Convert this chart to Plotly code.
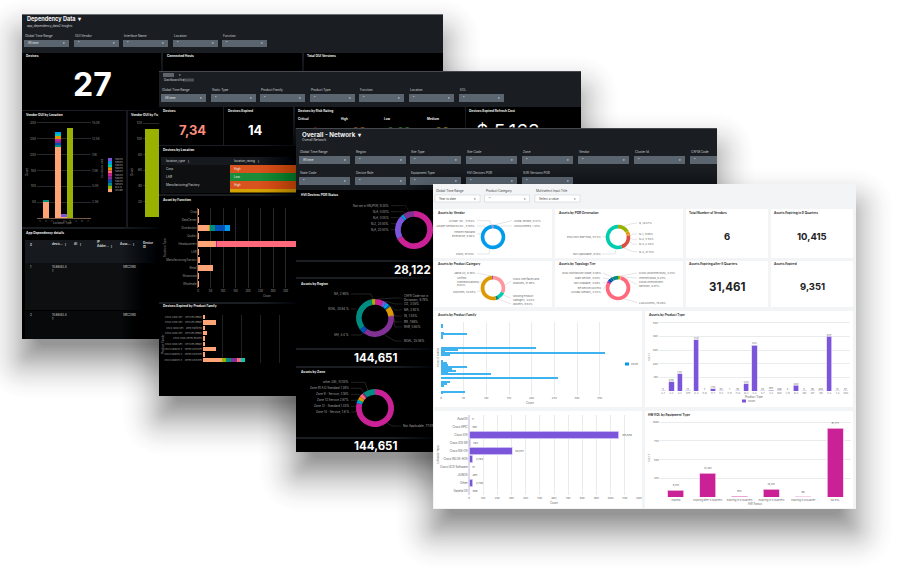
import plotly.graph_objects as go

W, H = 916, 578

# splunk categorical colours
ORANGE, OLIVE, TEAL, BLUE, PURPLE = "#FFA476", "#99B100", "#008C80", "#0051B5", "#813193"
MAGENTA, PINK, GOLD, MINT, SKY, VIOLET = "#CB2196", "#FF677B", "#DD9900", "#00CDAF", "#009CEB", "#7B56DB"
FONT = "Inter"

# --- Vendor OUI by Location (stacked)
oui_locations = ["C", "D", "H", "L", "M", "R", "S", "W", "Z"]
oui_orange = [0, 53, 0, 226, 4, 0, 0, 0, 0]
oui_olive = [0, 0, 0, 0, 0, 284, 0, 0, 0]
oui_teal = [0, 3, 0, 3, 0, 0, 0, 0, 0]
oui_blue = [0, 0, 0, 7, 0, 0, 0, 0, 0]
oui_purple = [0, 0, 0, 8, 0, 0, 0, 0, 0]
oui_magenta = [0, 0, 0, 7, 0, 0, 0, 0, 0]
oui_pink = [0, 0, 0, 1, 0, 0, 0, 0, 0]
oui_gold = [0, 0, 0, 6, 0, 0, 0, 0, 0]
oui_mint = [0, 0, 0, 7, 0, 0, 0, 0, 0]
oui_sky = [0, 0, 0, 5, 0, 0, 0, 0, 0]
oui_violet = [0, 0, 0, 0, 8, 0, 0, 0, 0]
oui_legend = ["50035...", "58505...", "50035...", "50035...", "58505...", "50035...",
              "50035...", "50035...", "58505...", "N/A 0...", "SPARE"]
oui_right_ticks = [2500, 5000, 7500, 10000, 12500, 15000]
oui_right_labels = ["2.5K", "5.0K", "7.5K", "10K", "12.5K", "15.0K"]
oui_function_value = [113]

# --- Asset by Function
function_names = ["Crop", "DataCenter", "Distribution", "Quality", "Headquarters", "LAB",
                  "Manufacturing/Factory", "Retail", "Showroom", "Wholesale"]
func_orange = [3, 3, 47, 3, 73, 3, 9, 61, 3, 3]
func_olive = [0, 0, 2, 0, 0, 0, 0, 0, 0, 0]
func_teal = [0, 0, 20, 0, 0, 0, 0, 0, 0, 0]
func_blue = [0, 0, 37, 0, 0, 0, 0, 0, 0, 0]
func_sky = [0, 0, 20, 0, 0, 0, 0, 0, 0, 0]
func_magenta = [0, 0, 0, 0, 4, 0, 0, 0, 0, 0]
func_pink = [0, 0, 0, 0, 400, 0, 0, 0, 0, 0]

# --- Devices Expired by Product Family
family_names = ["Cisco 2800 Seri... Services Ready", "Cisco 2900 Seri... Services Ready",
                "Cisco 3800 Seri... ared Platforms", "Cisco 2800 Seri... Services Ready",
                "Cisco 3900 Series Routers", "Cisco 3600 Seri... Services Ready",
                "Cisco Catalyst 9... Series Switches", "Cisco Catalyst 9... Series Switches",
                "Cisco Catalyst 9... Series Switches"]
fam_orange = [12, 70, 12, 21, 12, 12, 70, 12, 100]
fam_olive = [0, 0, 0, 0, 0, 0, 0, 0, 21]
fam_teal = [0, 0, 0, 0, 0, 0, 0, 0, 25]
fam_purple = [0, 0, 0, 0, 0, 0, 0, 0, 33]
fam_pink = [0, 0, 0, 0, 0, 0, 0, 0, 23]
fam_mint = [0, 0, 0, 0, 0, 0, 0, 0, 18]

# --- donuts
hvi_labels = ["Not set in HN/POR, 9.35%", "N/A, 0.00%", "N/A, 0.05%", "N/2, 20.50%", "N/A, 20.50%"]
hvi_values = [66, 20.5, 2.5, 9.35]
hvi_colors = [MAGENTA, VIOLET, SKY, PURPLE]

region_labels = ["CAFR Code not in<br>Dictionary, 6.76%", "CG, 3.05%", "MA, 2.92%", "IN, 1.45%", "BR, 7.66%",
                 "RHB, 0.84%", "NOAL, 35.08%", "SAf, 4.4 %", "SOAL, 30.84 %", "NA, 2.95%"]
region_values = [6.76, 3.05, 2.92, 1.45, 7.66, 0.84, 35.08, 4.4, 30.84, 2.95]
region_colors = [MAGENTA, VIOLET, SKY, "#00689D", GOLD, "#FF969E", PURPLE, BLUE, TEAL, OLIVE]

zone_labels = ["other (26), 10.05%", "Zone 91 A.D Standard 1.26%", "Zone 9 - Service, 3.18%",
               "Zone 13 Service 2.67%", "Zone 12 - Standard 1.45%", "Zone 14 - Service, 1.8 %"]
zone_values = [77.5, 1.8, 1.45, 2.67, 3.18, 1.26, 10.05]
zone_colors = [MAGENTA, SKY, MINT, GOLD, PINK, PURPLE, TEAL]

vendor_values = [0.47, 97.84, 0.8, 0.15, 0.1, 0.64]
vendor_colors = [MAGENTA, SKY, "#7FCDF5", VIOLET, GOLD, PURPLE]

por_values = [16.27, 0.88, 3.54, 2.44, 21.13, 55.5, 0.1]
por_colors = [OLIVE, "#C5B000", GOLD, "#F08A24", "#DC4E41", MINT, "#00A58E"]

category_values = [31.98, 9.84, 4.04, 52.65, 0.38, 1.1]
category_colors = ["#FF969E", MINT, TEAL, GOLD, OLIVE, PURPLE]

topology_values = [3.25, 0.25, 0.97, 78.26, 2.53, 4.09, 3.03, 8.08]
topology_colors = [OLIVE, PINK, "#FF969E", PINK, MAGENTA, BLUE, "#00689D", TEAL]

# --- Assets by Product Family (names unreadable in the picture)
product_family_rows = list(range(38))
product_family_counts = [0, 250, 300, 0, 0, 600, 5800, 250, 300, 0, 0, 0, 0, 20900, 3700, 900, 36100, 2000, 0, 0,
                         250, 1300, 1500, 5700, 2500, 3400, 1500, 11000, 0, 25900, 0, 2000, 1300, 700, 0, 0, 5300, 250]
family_ticks = [0, 5000, 10000, 15000, 20000, 25000, 30000, 35000]
family_tick_labels = ["0", "5K", "10K", "15K", "20K", "25K", "30K", "35K"]

# --- Assets by Product Type
product_types = ["A-7", "A-3", "A-2", "CPE", "G-A", "E-M", "H-7", "H-A", "H-B", "H-D", "M-A", "S-A",
                 "S-7", "V-A", "WAP", "V-B", "W-A", "WN", "WP", "WR", "X-A", "Y-A", "WAF"]
product_type_counts = [5, 6783, 12637, 13, 37530, 3, 1710, 53, 1, 53, 5225, 33653,
                       33, 395, 326, 2, 4040, 5, 30, 203, 40047, 13, 57]
type_ticks = [10000, 20000, 30000, 40000, 50000]
type_tick_labels = ["10K", "20K", "30K", "40K", "50K"]

# --- Software Type
software_types = ["AutoOS", "Cisco APIC", "Cisco IOS", "Cisco IOS XR", "Cisco NX-OS", "Cisco WLOS-AOS",
                  "Cisco UCS Software", "JUNOS", "Other", "Viptela OS"]
software_counts = [5, 189, 105850, 763, 30357, 2764, 13, 295, 2748, 309]
software_ticks = [i * 10000 for i in range(13)]
software_tick_labels = ["0"] + [f"{i * 10}K" for i in range(1, 13)]

# --- HW EOL by Equipment Type
hw_status = ["Expired", "Expiring after 8 Quarters", "Expiring in 0 Quarters",
             "Expiring in 8 Quarters", "Expiring in a Quarter", "No EOL"]
hw_counts = [9351, 31461, 953, 10415, 96, 91771]
hw_ticks = [25000, 50000, 75000, 100000]
hw_tick_labels = ["25K", "50K", "75K", "100K"]

fig = go.Figure()
shapes, notes = [], []
layout_axes = {}
axis_count = [0]


def px(x):
    return x / W


def py(y):
    return 1 - y / H


def rect(x0, y0, x1, y1, fill, line=None, layer="below"):
    shapes.append(dict(type="rect", xref="paper", yref="paper", x0=px(x0), x1=px(x1), y0=py(y0), y1=py(y1),
                       fillcolor=fill, line=dict(color=line or fill, width=0.5 if line else 0), layer=layer))


def seg(points, color, width=0.4):
    d = "M" + " L".join(f"{px(x):.5f},{py(y):.5f}" for x, y in points)
    shapes.append(dict(type="path", xref="paper", yref="paper", path=d, line=dict(color=color, width=width), layer="below"))


def txt(x, y, s, size=4, color="#ddd", bold=False, anchor="left", angle=0):
    label = f"<b>{s}</b>" if bold else s
    notes.append(dict(x=px(x), y=py(y), xref="paper", yref="paper", text=label, showarrow=False, xanchor=anchor,
                      yanchor="middle", align=anchor, textangle=angle, borderpad=0,
                      font=dict(size=size, color=color, family=FONT)))


def shadow(x0, y0, x1, y1):
    # soft drop shadow, built from stacked translucent rounded boxes
    drop = 22
    steps = 40
    for i in range(steps):
        t = i / (steps - 1)
        g = 42 - 58 * t
        alpha = 0.0007 + 0.022 * t
        a, b, c, d = x0 - g, y0 - g + drop, x1 + g, y1 + g + drop
        r = max(g, 0) + 8
        path = (f"M{px(a + r)},{py(b)} L{px(c - r)},{py(b)} Q{px(c)},{py(b)} {px(c)},{py(b + r)} "
                f"L{px(c)},{py(d - r)} Q{px(c)},{py(d)} {px(c - r)},{py(d)} L{px(a + r)},{py(d)} "
                f"Q{px(a)},{py(d)} {px(a)},{py(d - r)} L{px(a)},{py(b + r)} Q{px(a)},{py(b)} {px(a + r)},{py(b)} Z")
        shapes.append(dict(type="path", xref="paper", yref="paper", path=path, fillcolor=f"rgba(0,0,0,{alpha:.4f})",
                           line=dict(width=0), layer="below"))


def axes(box, xcfg, ycfg):
    axis_count[0] += 1
    n = axis_count[0]
    x0, y0, x1, y1 = box
    base = dict(showgrid=False, zeroline=False, showline=False, ticks="", fixedrange=True, tickangle=0,
                automargin=False, tickfont=dict(size=3.2, color="#999", family=FONT))
    layout_axes[f"xaxis{n}"] = {**base, "domain": [px(x0), px(x1)], "anchor": f"y{n}", **xcfg}
    layout_axes[f"yaxis{n}"] = {**base, "domain": [py(y1), py(y0)], "anchor": f"x{n}", **ycfg}
    return f"x{n}", f"y{n}"


def bar(xa, ya, x, y, color, **kw):
    fig.add_trace(go.Bar(x=x, y=y, xaxis=xa, yaxis=ya, marker=dict(color=color, line=dict(width=0)),
                         showlegend=False, hoverinfo="skip", **kw))


def clip_text(box, xs, ys, texts, size, colors, position="middle center"):
    # text that gets cut by the panel lying over it
    xa, ya = axes(box, dict(range=[box[0], box[2]], visible=False), dict(range=[box[3], box[1]], visible=False))
    fig.add_trace(go.Scatter(x=xs, y=ys, xaxis=xa, yaxis=ya, mode="text", text=texts, textposition=position,
                             textfont=dict(size=size, color=colors, family=FONT), showlegend=False, hoverinfo="skip"))


def donut(cx, cy, r, values, colors):
    fig.add_trace(go.Pie(values=values, hole=0.7, sort=False, direction="clockwise", rotation=0,
                         marker=dict(colors=colors, line=dict(width=0)), textinfo="none", showlegend=False,
                         hoverinfo="skip", domain=dict(x=[px(cx - r), px(cx + r)], y=[py(cy + r), py(cy - r)])))


def filters(labels, xs, w, ylab, y0, y1, values=None, light=False):
    for i, (lab, x) in enumerate(zip(labels, xs)):
        fill = "#ffffff" if light else "#5b6570"
        rect(x, y0, min(x + w, 717), y1, fill, "#c5ccd3" if light else None)
        txt(x, ylab, lab, 3.1, "#444" if light else "#cfd3d7")
        val = values[i] if values else "*"
        txt(x + 3, (y0 + y1) / 2, val, 3, "#444" if light else "#e8eaec")
        if x + w < 717:
            txt(x + w - 3, (y0 + y1) / 2, "▾", 3, "#444" if light else "#e8eaec", anchor="right")


DARK = "#1a1e23"
CARD = "#000000"

# ---------- panel 1: Dependency Data
shadow(22, 14, 443, 339)
rect(22, 14, 443, 339, DARK)
rect(22, 14, 443, 15, "#6a6e72")
txt(26, 20, "Dependency Data  ▾", 5.6, "#f2f2f2", True)
txt(26, 25.7, "app_dependency_data2 Insights", 3, "#d5d5d5")
filters(["Global Time Range", "OUI Vendor", "Interface Name", "Location", "Function"],
        [24, 74, 123, 173, 222], 45, 36, 40, 47, ["All time", "*", "*", "*", "*"])
for box in [(22, 53, 161, 110), (163, 53, 302, 71), (304, 53, 443, 71), (22, 111, 126, 227),
            (128, 111, 159, 227), (22, 229, 159, 339)]:
    rect(*box, CARD)
txt(25, 56, "Devices", 3.2, "#eee", True)
txt(166, 56, "Connected Hosts", 3.2, "#eee", True)
txt(306, 56, "Total OUI Versions", 3.2, "#eee", True)
txt(92, 84, "27", 32, "#ffffff", True, "center")
txt(25, 115, "Vendor OUI by Location", 3.2, "#eee", True)
txt(130, 115, "Vendor OUI by Fu", 3.2, "#eee", True)
txt(25, 233, "App Dependency details", 3.2, "#eee", True)

xa, ya = axes((37, 121, 91, 218),
              dict(type="category", categoryorder="array", categoryarray=oui_locations, showline=True,
                   linecolor="#7a5a46", linewidth=0.6, tickfont=dict(size=2.4, color="#666")),
              dict(range=[0, 306], tickvals=[50, 100, 150, 200, 250, 300], showgrid=True, gridcolor="#25272b", gridwidth=0.5))
oui_series = [(oui_orange, ORANGE), (oui_olive, OLIVE), (oui_teal, TEAL), (oui_blue, BLUE), (oui_purple, PURPLE),
              (oui_magenta, MAGENTA), (oui_pink, PINK), (oui_gold, GOLD), (oui_mint, MINT), (oui_sky, SKY), (oui_violet, VIOLET)]
for vals, col in oui_series:
    bar(xa, ya, oui_locations, vals, col, width=0.92)
# right hand axis of the same chart
n_right = axis_count[0] + 1
axis_count[0] = n_right
layout_axes[f"yaxis{n_right}"] = dict(overlaying=ya, side="right", anchor=xa, range=[0, 15300], tickvals=oui_right_ticks,
                                      ticktext=oui_right_labels, showgrid=False, zeroline=False, ticks="", ticklen=0,
                                      automargin=False, tickfont=dict(size=3, color="#888", family=FONT))
fig.add_trace(go.Scatter(x=oui_locations[:2], y=[0, 15000], xaxis=xa, yaxis=f"y{n_right}", mode="lines",
                         line=dict(color="rgba(0,0,0,0)"), showlegend=False, hoverinfo="skip"))
txt(27, 172, "Count", 2.8, "#999", False, "center", -90)
txt(63, 222.5, "Location Type", 2.8, "#999", False, "center")
txt(102, 168, "Secondary Axis", 2.6, "#999", False, "center", -90)
for i, ((vals, col), name) in enumerate(zip(reversed(oui_series), oui_legend)):
    rect(108, 158 + i * 3.1, 112, 161.1 + i * 3.1, col)
    txt(113.5, 159.5 + i * 3.1, name, 2.5, "#aaa")

xa, ya = axes((143, 121, 159, 217), dict(range=[-0.6, 0.2], showticklabels=False),
              dict(range=[0, 123], tickvals=[20, 40, 60, 80, 100, 120], showgrid=True, gridcolor="#25272b", gridwidth=0.5))
bar(xa, ya, [0], oui_function_value, OLIVE, width=1)
txt(132, 172, "Count", 2.8, "#999", False, "center", -90)

# app dependency table
rect(25, 240, 159, 263, "#16191d")
rect(25, 263, 159, 310, "#0d0f11")
rect(25, 311, 159, 339, "#08090a")
for x, s in [(29, "#"), (51, "devic...  ⋮"), (73, "AI  ⋮"), (96, "IP<br>Addre...  ⋮"), (119, "Asso...  ⋮"), (142, "Device<br>ID")]:
    txt(x, 245, s, 3, "#ddd", True)
for y, s in [(267, "1"), (315, "2")]:
    txt(29, y, s, 3, "#ddd")
    txt(51, y + 2, "10.68.63.4<br>1", 3, "#ddd")
    txt(122, y, "SBC2WD", 3, "#ddd")

# ---------- panel 2
shadow(159, 71, 581, 396)
rect(159, 71, 581, 396, DARK)
rect(159, 71, 581, 71.7, "#55595e")
rect(163, 73, 174, 77, "#5e646a")
txt(178, 75, "▾", 3.4, "#ddd")
txt(163, 80, "Dashboard for", 3, "#d5d5d5")
rect(183, 78.5, 194, 81.5, "#4a5056")
filters(["Global Time Range", "Static Type", "Product Family", "Product Type", "Function", "Location", "EOL"],
        [161, 211, 260, 310, 359, 409, 459], 45, 90, 94, 102, ["All time"] + ["*"] * 6)
for box in [(159, 107, 223, 145), (224, 107, 293, 145), (295, 107, 465, 128), (466, 107, 581, 128),
            (159, 146, 296, 194), (159, 196, 296, 302), (159, 304, 296, 396)]:
    rect(*box, CARD)
txt(162, 111, "Devices", 3.2, "#eee", True)
txt(227, 111, "Devices Expired", 3.2, "#eee", True)
txt(297, 111, "Devices by Risk Rating", 3.2, "#eee", True)
txt(468, 111, "Devices Expired Refresh Cost", 3.2, "#eee", True)
txt(192, 130, "7,34", 13, "#ff8d7c", True, "center")
txt(255, 130, "14", 13, "#ffffff", True, "center")
for x, s in [(297, "Critical"), (340, "High"), (383, "Low"), (426, "Medium")]:
    txt(x, 119, s, 3, "#eee", True)
clip_text((295, 107, 465, 127.5), [314, 359, 399, 442], [132, 132, 132, 132], ["4", "28", "2.08", "26"], 11,
          ["#e4372b", "#e88a1a", "#3fb54a", "#c9c61a"])
clip_text((466, 107, 581, 127.5), [508], [133], ["$ 5,163"], 19, ["#ffffff"])

txt(162, 150, "Devices by Location", 3.2, "#eee", True)
rect(161, 157, 296, 165, "#16191d")
rect(161, 165, 230, 193, "#0d0f11")
txt(165, 161, "location_type  ⋮", 3, "#ddd")
txt(233, 161, "location_rating  ⋮", 3, "#ddd")
rating_colors = ["#d9531e", "#1a8c3a", "#d9531e"]
for i, (nm, rate) in enumerate(zip(["Corp", "LAB", "Manufacturing/Factory"], ["High", "Low", "High"])):
    rect(230, 165 + i * 8, 296, 173 + i * 8, rating_colors[i])
    txt(165, 169 + i * 8, nm, 3.1, "#ddd")
    txt(233, 169 + i * 8, rate, 3, "#f3f3f3")
rect(230, 189, 296, 192.5, "#d4a300")

txt(162, 200, "Asset by Function", 3.2, "#eee", True)
xa, ya = axes((198, 208, 296, 288),
              dict(range=[0, 392], tickvals=[0, 50, 100, 150, 200, 250, 300, 350], showgrid=True, gridcolor="#26282c",
                   gridwidth=0.5, tickfont=dict(size=2.8, color="#999")),
              dict(type="category", categoryorder="array", categoryarray=function_names, range=[9.5, -0.5],
                   tickfont=dict(size=2.8, color="#999"), showline=True, linecolor="#7a5a46", linewidth=0.6))
for vals, col in [(func_orange, ORANGE), (func_olive, OLIVE), (func_teal, TEAL), (func_blue, BLUE), (func_sky, SKY),
                  (func_magenta, MAGENTA), (func_pink, PINK)]:
    bar(xa, ya, vals, function_names, col, orientation="h", width=0.78)
txt(165, 248, "Function Type", 2.8, "#999", False, "center", -90)
txt(267, 296, "Count", 2.8, "#999", False, "center")

txt(162, 306, "Devices Expired by Product Family", 3.2, "#eee", True)
xa, ya = axes((203, 314.5, 296, 362.5),
              dict(range=[0, 489], tickvals=[0, 100, 200, 300, 400], showticklabels=False, showgrid=True,
                   gridcolor="#1e2024", gridwidth=0.5),
              dict(type="linear", range=[8.5, -0.5], tickvals=list(range(9)), ticktext=family_names,
                   tickfont=dict(size=2.3, color="#999")))
family_rows = list(range(9))
for vals, col in [(fam_orange, ORANGE), (fam_olive, OLIVE), (fam_teal, TEAL), (fam_purple, PURPLE),
                  (fam_pink, PINK), (fam_mint, MINT)]:
    bar(xa, ya, vals, family_rows, col, orientation="h", width=0.85)
txt(163, 344, "Product Family", 2.8, "#999", False, "center", -90)

# ---------- panel 3: Overall - Network
shadow(296, 128, 717, 452)
rect(296, 128, 717, 452, DARK)
rect(296, 128, 717, 128.7, "#55595e")
txt(301, 134, "Overall - Network  ▾", 6.2, "#f2f2f2", True)
txt(301, 140.3, "Overall Network", 3.2, "#d5d5d5")
filters(["Global Time Range", "Region", "Site Type", "Site Code", "Zone", "Vendor", "Cluster Id", "CAFM Code"],
        [299, 355, 410, 466, 522, 578, 634, 690], 51, 152, 156, 164, ["All time"] + ["*"] * 7)
filters(["State Code", "Device Role", "Equipment Type", "HVI Devices POR", "S/W Versions POR"],
        [299, 355, 410, 466, 522], 51, 173, 177, 185)
for box in [(296, 190, 433, 260), (296, 262, 433, 277), (296, 279, 433, 348), (296, 350, 433, 366),
            (296, 368, 433, 437), (296, 439, 433, 452)]:
    rect(*box, CARD)
txt(300, 195, "HVI Devices POR Status", 3.2, "#eee", True)
txt(300, 284, "Assets by Region", 3.2, "#eee", True)
txt(300, 372, "Assets by Zone", 3.2, "#eee", True)
txt(432, 269.5, "28,122", 11.5, "#ffffff", True, "right")
txt(375, 358, "144,651", 11.5, "#ffffff", True, "center")
txt(375, 446, "144,651", 11.5, "#ffffff", True, "center")

donut(414, 230, 19, hvi_values, hvi_colors)
donut(375, 318, 19, region_values, region_colors)
donut(375, 408, 19, zone_values, zone_colors)

for (s, y, end) in zip(hvi_labels, [205.7, 211.7, 217.7, 223.7, 229.7], [(409, 212), (406, 214), (402, 218), (397, 224), (396, 230)]):
    txt(390, y, s, 2.9, "#aaa", anchor="right")
    seg([(391, y), (end[0] - 3, y), end], "#555")
region_pos = [(403, 298), (403, 304), (403, 310), (403, 316), (403, 322), (403, 327), (403, 341)]
region_ends = [(378, 299), (385, 301), (388, 304), (390, 307), (392, 311), (393, 317), (385, 335)]
for s, (x, y), e in zip(region_labels[:7], region_pos, region_ends):
    txt(x, y, s, 2.9, "#aaa")
    seg([(x - 1, y), (x - 8, y), e], "#555")
for s, y, e in zip(region_labels[7:], [335, 309, 294], [(363, 333), (356, 309), (373, 299)]):
    txt(350, y, s, 2.9, "#aaa", anchor="right")
    seg([(351, y), (e[0] - 2, y), e], "#555")
for s, y, e in zip(zone_labels, [382.3, 388.3, 394.3, 400.3, 406.3, 412],
                   [(368, 391), (364, 393), (361, 396), (358, 400), (357, 406), (357, 411)]):
    txt(350, y, s, 2.9, "#aaa", anchor="right")
    seg([(351, y), (e[0] - 3, y), e], "#555")
seg([(401, 426), (392, 426), (387, 423)], "#555")
clip_text((296, 368, 433, 437), [403], [426], ["Not Applicable, 77.5%"], 3, ["#aaa"], "middle right")

# ---------- panel 4: white dashboard
shadow(433, 184, 856, 509)
rect(433, 184, 856, 509, "#f2f4f5")
filters(["Global Time Range", "Product Category", "Multiselect Input Title"], [435, 484.5, 535], 45, 191, 195, 202,
        ["Year to date", "*", "Select a value"], light=True)
for box in [(434, 209, 552, 258), (555, 209, 683, 258), (686, 209, 768, 258), (771, 209, 853, 258),
            (434, 261, 552, 307), (555, 261, 683, 307), (686, 261, 768, 307), (771, 261, 853, 307),
            (434, 311, 642, 407), (645, 311, 853, 407), (434, 411, 642, 508), (645, 411, 853, 508)]:
    rect(*box, "#ffffff")
INK = "#333333"
for x, y, s in [(437, 212.5, "Assets by Vendor"), (558, 212.5, "Assets by POR Generation"),
                (688, 212.5, "Total Number of Vendors"), (773, 212.5, "Assets Expiring in 0 Quarters"),
                (437, 264, "Assets by Product Category"), (558, 264, "Assets by Topology Tier"),
                (688, 264, "Assets Expiring after 8 Quarters"), (773, 264, "Assets Expired"),
                (437, 314.5, "Assets by Product Family"), (648, 314.5, "Assets by Product Type"),
                (647, 415, "HW EOL by Equipment Type")]:
    txt(x, y, s, 3.1, INK, True)
txt(727, 237, "6", 9.5, "#222", True, "center")
txt(812, 237, "10,415", 9.5, "#222", True, "center")
txt(727, 287, "31,461", 11.5, "#222", True, "center")
txt(812, 287, "9,351", 9.5, "#222", True, "center")

donut(493, 237, 12.3, vendor_values, vendor_colors)
donut(618, 237, 12.3, por_values, por_colors)
donut(493, 288, 12.3, category_values, category_colors)
donut(618, 288, 12.3, topology_values, topology_colors)

GREY, LEAD = "#666666", "#bbbbbb"
for s, y, e in [("UTStar. Inc., 3.154%", 220.7, (491, 225)), ("Juniper Networks Inc., 3.105%", 226, (485, 228)),
                ("Hewlett Packard<br>Enterprise, 0.80%", 234, (482, 232)), ("Cisco, 97.84%", 254, (490, 249))]:
    txt(476, y, s, 2.7, GREY, anchor="right")
    seg([(477, y), (e[0] - 1, y), e], LEAD)
for s, y, e in [("Arista Vendor, 0.47%", 220.7, (494, 225)), ("ArcoSystems, 1.45%", 226, (497, 226))]:
    txt(513, y, s, 2.7, GREY)
    seg([(512, y), e], LEAD)
for s, y, e in [("N, 16.27%", 223.3, (624, 226)), ("N-1, 0.88%", 234, (630, 236)), ("N-2, 3.54%", 239.3, (630, 238)),
                ("N-3, 2.44%", 244.3, (629, 241)), ("N-4, 21.13%", 251.7, (624, 248))]:
    txt(638, y, s, 2.7, GREY)
    seg([(637, y), (633, y), e], LEAD)
for s, y, e in [("POC/non-BoP POR, 55.5%", 236.7, (606, 237)), ("Not Applicable, 0.10%", 254, (616, 249))]:
    txt(601.7, y, s, 2.7, GREY, anchor="right")
    seg([(602, y), (e[0] - 1, y), e], LEAD)
for s, y, e in [("Jabra (2), 0.38%", 273, (491, 276)), ("Switches, 52.65%", 291.5, (481, 291))]:
    txt(476.7, y, s, 2.7, GREY, anchor="right")
    seg([(477, y), e], LEAD)
txt(456, 281, "Unified<br>Communications,<br>9.64%", 2.7, GREY)
seg([(477, 282), (482, 282)], LEAD)
for s, y, e in [("Cisco Interfaces and<br>Modules, 31.98%", 281, (505, 285)), ("Missing Product<br>Category, 4.04%", 298, (503, 295)),
                ("Routers, 9.84%", 304, (498, 299))]:
    txt(512, y, s, 2.7, GREY)
    seg([(511, y), e], LEAD)
for s, y, e in [("WAN Distribution Node, 8.08%", 273, (612, 277)), ("Main Device, 3.03%", 278, (609, 279)),
                ("Not Available, 4.09%", 283, (607, 282)), ("BP Device/Access<br>(Aruba/ Meraki), 2.53%", 290, (606, 285))]:
    txt(602, y, s, 2.7, GREY, anchor="right")
    seg([(603, y), e], LEAD)
for s, y, e in [("CAFR (Discrete/WIN), 3.25%", 273, (620, 276)), ("Internet/DMZ, 0.25%", 278, (623, 277)),
                ("Cloud Interconnect<br>Network, 0.97%", 284.5, (626, 279)), ("LAN/Access, 78.26%", 302.5, (624, 299))]:
    txt(638, y, s, 2.7, GREY)
    seg([(637, y), e], LEAD)

LIGHT_AXIS = dict(showgrid=True, gridcolor="#e9eced", gridwidth=0.5)
TICK = dict(size=2.7, color="#666", family=FONT)

xa, ya = axes((441, 322, 622, 395),
              dict(range=[0, 39900], tickvals=family_ticks, ticktext=family_tick_labels, tickfont=TICK, **LIGHT_AXIS),
              dict(range=[37.8, -0.6], showticklabels=False))
bar(xa, ya, product_family_counts, product_family_rows, "#3FB3F0", orientation="h", width=0.6)
txt(438, 358, "Product Family", 2.7, GREY, False, "center", -90)
txt(530, 403, "Count", 2.8, GREY, False, "center")
rect(625, 362.5, 629, 365.5, SKY)
txt(630, 364, "count", 2.7, GREY)

xa, ya = axes((659, 319, 850, 391),
              dict(type="category", categoryorder="array", categoryarray=product_types, tickfont=dict(size=2.2, color="#777", family=FONT)),
              dict(range=[0, 52700], tickvals=type_ticks, ticktext=type_tick_labels, tickfont=TICK, **LIGHT_AXIS))
fig.add_trace(go.Bar(x=product_types, y=product_type_counts, xaxis=xa, yaxis=ya, width=0.62,
                     marker=dict(color=VIOLET, line=dict(color="#ddd5f6", width=0.8)),
                     text=[f"{v:,}" for v in product_type_counts], textposition="outside", cliponaxis=False,
                     textangle=0, outsidetextfont=dict(size=2.4, color="#555", family=FONT), showlegend=False, hoverinfo="skip"))
txt(649, 357, "Count", 2.7, GREY, False, "center", -90)
txt(754, 397, "Product Type", 2.8, GREY, False, "center")
rect(742, 399.5, 746, 402.5, VIOLET)
txt(747, 401, "count", 2.7, GREY)

xa, ya = axes((469, 415, 639, 495),
              dict(range=[0, 120000], tickvals=software_ticks, ticktext=software_tick_labels, tickfont=TICK, **LIGHT_AXIS),
              dict(type="category", categoryorder="array", categoryarray=software_types, range=[9.5, -0.5],
                   tickfont=dict(size=2.9, color="#555", family=FONT), showline=True, linecolor="#dde0e3", linewidth=0.5))
fig.add_trace(go.Bar(x=software_counts, y=software_types, xaxis=xa, yaxis=ya, orientation="h", width=0.88,
                     marker=dict(color=VIOLET, line=dict(color="#ddd5f6", width=0.8)),
                     text=[f"{v:,}" for v in software_counts], textposition="outside", cliponaxis=False, textangle=0,
                     outsidetextfont=dict(size=2.7, color="#555", family=FONT), showlegend=False, hoverinfo="skip"))
txt(438, 455, "Software Type", 2.7, GREY, False, "center", -90)
txt(554, 503, "Count", 2.8, GREY, False, "center")

xa, ya = axes((660, 420, 851, 497),
              dict(type="category", categoryorder="array", categoryarray=hw_status, tickfont=dict(size=2.5, color="#666", family=FONT)),
              dict(range=[0, 103000], tickvals=hw_ticks, ticktext=hw_tick_labels, tickfont=TICK, **LIGHT_AXIS))
fig.add_trace(go.Bar(x=hw_status, y=hw_counts, xaxis=xa, yaxis=ya, width=0.5,
                     marker=dict(color=MAGENTA, line=dict(color="#f3c7e3", width=0.8)),
                     text=[f"{v:,}" for v in hw_counts], textposition="outside", cliponaxis=False, textangle=0,
                     outsidetextfont=dict(size=2.5, color="#555", family=FONT), showlegend=False, hoverinfo="skip"))
txt(649, 458, "Count", 2.7, GREY, False, "center", -90)
txt(755, 503.5, "HW Status", 2.8, GREY, False, "center")

fig.update_layout(width=W, height=H, margin=dict(l=0, r=0, t=0, b=0), paper_bgcolor="#ffffff", plot_bgcolor="rgba(0,0,0,0)",
                  barmode="stack", shapes=shapes, annotations=notes, font=dict(family=FONT), showlegend=False, **layout_axes)
# the page body has a default margin, drop it so the figure fills the window
fig.write_html("out.html", config=dict(displayModeBar=False), post_script="document.body.style.margin='0';")
